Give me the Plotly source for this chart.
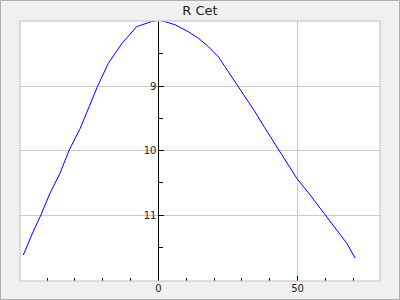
import plotly.graph_objects as go

phase = [-48.5, -45.5, -42.2, -38.9, -35.3, -32.0, -28.1, -25.1, -21.9, -18.0, -13.1, -7.8, -2.4, 0.0,
         2.2, 6.0, 10.8, 14.4, 18.0, 21.6, 25.1, 28.7, 32.3, 34.7, 38.1, 43.1, 46.1, 49.7, 54.5,
         59.9, 64.7, 67.7, 70.7]
mag = [11.62, 11.31, 11.00, 10.66, 10.35, 9.99, 9.66, 9.35, 9.01, 8.65, 8.34, 8.08, 8.00, 7.98,
       8.00, 8.05, 8.16, 8.26, 8.39, 8.55, 8.78, 9.00, 9.24, 9.40, 9.64, 9.99, 10.20, 10.43, 10.69,
       11.00, 11.26, 11.44, 11.67]

x_ticks = [0, 50]
y_ticks = [9, 10, 11]
y_minor = [8.5, 9.5, 10.5, 11.5]
title = "R Cet"

xr = [-49.7, 79.6]
yr = [12.023, 7.992]
ypos = (0 - xr[0]) / (xr[1] - xr[0])

fig = go.Figure()
fig.add_trace(go.Scatter(x=phase, y=mag, mode="lines",
                         line=dict(color="#0000ff", width=1), showlegend=False))

font = dict(family="DejaVu Sans", size=10, color="#222222")

fig.update_layout(
    width=400, height=300,
    margin=dict(l=20, r=20, t=21, b=19),
    paper_bgcolor="#f0f0f0", plot_bgcolor="#ffffff",
    title=dict(text=title, x=0.5, xanchor="center", y=1 - 10 / 300, yanchor="middle",
               font=dict(family="DejaVu Sans", size=13, color="#222222"), automargin=False),
    font=font,
    xaxis=dict(range=xr, tickmode="array", tickvals=x_ticks, ticks="inside", ticklen=5,
               tickcolor="#000000", showgrid=True, gridcolor="#c8c8c8", gridwidth=1,
               zeroline=False, showline=False, tickfont=font, automargin=False,
               minor=dict(dtick=10, tick0=0, ticks="inside", ticklen=3, tickcolor="#000000",
                          showgrid=False)),
    yaxis=dict(range=yr, tickmode="array", tickvals=y_ticks, ticks="inside", ticklen=5,
               tickcolor="#000000", showgrid=True, gridcolor="#c8c8c8", gridwidth=1,
               zeroline=False, showline=True, linecolor="#000000", linewidth=1,
               anchor="free", position=ypos, tickfont=font, automargin=False,
               minor=dict(tickmode="array", tickvals=y_minor, ticks="inside", ticklen=4,
                          tickcolor="#000000", showgrid=False)),
    shapes=[
        dict(type="rect", xref="paper", yref="paper", x0=0, x1=1, y0=0, y1=1,
             line=dict(color="#c0c0c0", width=1)),
        dict(type="rect", xref="paper", yref="paper",
             x0=(0.5 - 20) / 360, x1=(399.5 - 20) / 360,
             y0=(281 - 299.5) / 260, y1=(281 - 0.5) / 260,
             line=dict(color="#b0b0b0", width=1)),
    ],
)

fig.write_html("out.html")
